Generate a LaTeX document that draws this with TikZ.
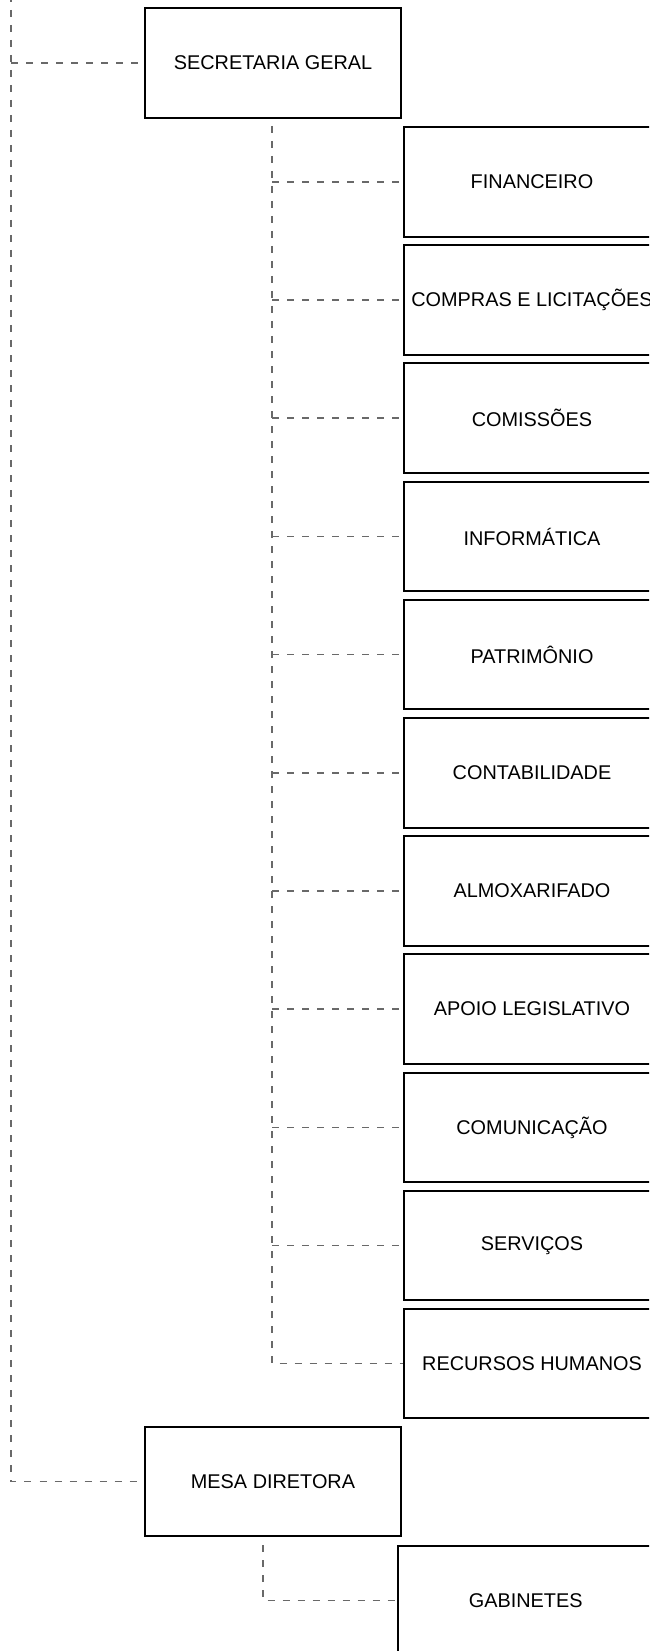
\documentclass[tikz,border=0pt]{standalone}
\usepackage{fontspec}
\setmainfont{Liberation Sans}
\begin{document}
\begin{tikzpicture}[x=0.75pt,y=-0.75pt,
  box/.style={draw=black,line width=1.4pt,fill=white,minimum width=192pt,minimum height=82pt,inner sep=0pt,font=\fontsize{14.9pt}{18pt}\selectfont},
  link/.style={draw={rgb,255:red,105;green,105;blue,105},line width=1.15pt,dash pattern=on 5.25pt off 6pt}]
\useasboundingbox (0,0) rectangle (649,1651);
\clip (0,0) rectangle (649,1651);
\node[box,minimum height=82.5pt] (sec) at (273,63) {SECRETARIA GERAL};
\node[box] (fin) at (532,182) {FINANCEIRO};
\node[box] (comp) at (532,300) {COMPRAS E LICITAÇÕES};
\node[box] (comi) at (532,418) {COMISSÕES};
\node[box] (info) at (532,536.5) {INFORMÁTICA};
\node[box] (pat) at (532,654.5) {PATRIMÔNIO};
\node[box] (cont) at (532,773) {CONTABILIDADE};
\node[box] (alm) at (532,891) {ALMOXARIFADO};
\node[box] (apo) at (532,1009) {APOIO LEGISLATIVO};
\node[box] (com) at (532,1127.5) {COMUNICAÇÃO};
\node[box] (serv) at (532,1245.5) {SERVIÇOS};
\node[box] (rh) at (532,1363.5) {RECURSOS HUMANOS};
\node[box] (mesa) at (273,1481.5) {MESA DIRETORA};
\node[box] (gab) at (525.7,1600.5) {GABINETES};
\coordinate (root) at (11,-20);
\coordinate (secb) at (272,126);
\coordinate (mesab) at (263,1545);
\draw[link] (root) |- (mesa.west);
\draw[link] (root |- sec.west) -- (sec.west);
\draw[link] (secb) |- (rh.west);
\foreach \n in {fin,comp,comi,info,pat,cont,alm,apo,com,serv}
  \draw[link] (secb |- \n.west) -- (\n.west);
\draw[link] (mesab) |- (gab.west);
\end{tikzpicture}
\end{document}
